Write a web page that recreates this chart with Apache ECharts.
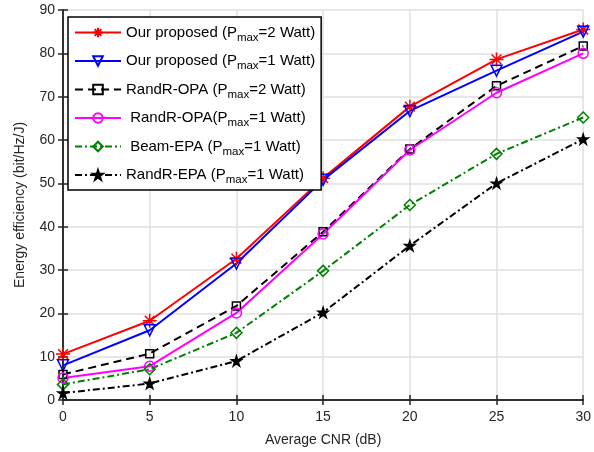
<!DOCTYPE html>
<html><head><meta charset="utf-8">
<script src="https://cdn.jsdelivr.net/npm/echarts@6/dist/echarts.min.js"></script>
<style>html,body{margin:0;padding:0;background:#fff}#c{width:594px;height:452px}</style>
</head><body><div id="c"></div>
<script>
const xValues = [0, 5, 10, 15, 20, 25, 30];
const ourP2 = [10.6, 18.3, 32.6, 51.2, 67.7, 78.6, 85.5];
const ourP1 = [8.0, 16.1, 31.5, 50.8, 66.7, 76.0, 85.0];
const randrOpaP2 = [5.9, 10.7, 21.7, 38.8, 57.9, 72.5, 81.7];
const randrOpaP1 = [5.1, 7.8, 20.1, 38.3, 57.7, 70.9, 80.0];
const beamEpaP1 = [3.6, 7.1, 15.5, 29.8, 45.0, 56.8, 65.2];
const randrEpaP1 = [1.6, 3.8, 9.0, 20.2, 35.6, 50.0, 60.2];
const seriesNames = [
  'Our proposed (P{sub|max}=2 Watt)',
  'Our proposed (P{sub|max}=1 Watt)',
  'RandR-OPA (P{sub|max}=2 Watt)',
  ' RandR-OPA(P{sub|max}=1 Watt)',
  ' Beam-EPA (P{sub|max}=1 Watt)',
  'RandR-EPA (P{sub|max}=1 Watt)'
];
const xTicks = [0, 5, 10, 15, 20, 25, 30];
const yTicks = [0, 10, 20, 30, 40, 50, 60, 70, 80, 90];

const asterisk = 'path://M0 5L10 5M5 0L5 10M1.5 1.5L8.5 8.5M8.5 1.5L1.5 8.5';
const star = 'path://M5 0L6.18 3.62L10 3.62L6.91 5.86L8.09 9.5L5 7.24L1.91 9.5L3.09 5.86L0 3.62L3.82 3.62Z';

const pairs = v => xValues.map((x, i) => [x, v[i]]);
function mk(name, data, color, symbol, size, lineType, filled, rotate) {
  return {
    name, type: 'line', data: pairs(data), symbol, symbolSize: size, symbolRotate: rotate || 0,
    lineStyle: {color, width: 2, type: lineType},
    itemStyle: {color: filled ? color : 'rgba(0,0,0,0)', borderColor: color, borderWidth: 1.5},
    emphasis: {disabled: true}, animation: false, z: 3
  };
}
const series = [
  mk(seriesNames[0], ourP2, '#ff0000', asterisk, 14, 'solid', false),
  mk(seriesNames[1], ourP1, '#0000ff', 'triangle', 11, 'solid', false, 180),
  mk(seriesNames[2], randrOpaP2, '#000000', 'rect', 8, [8, 5], false),
  mk(seriesNames[3], randrOpaP1, '#ff00ff', 'circle', 10, 'solid', false),
  mk(seriesNames[4], beamEpaP1, '#008000', 'diamond', 11, [7, 3, 2, 3], false),
  mk(seriesNames[5], randrEpaP1, '#000000', star, 10, [7, 3, 2, 3], true)
];
const axisCol = '#262626';
const chart = echarts.init(document.getElementById('c'), null, {renderer: 'canvas'});
const baseAxis = {
  axisLine: {show: true, lineStyle: {color: axisCol, width: 1.5}},
  axisTick: {show: true, inside: true, length: 5, lineStyle: {color: axisCol, width: 1.5}},
};
chart.setOption({
  backgroundColor: '#fff',
  animation: false,
  grid: {left: 63, right: 8, top: 10, bottom: 52},
  legend: {
    orient: 'vertical', left: 68, top: 17, itemWidth: 46, itemHeight: 12, itemGap: 10,
    padding: [8, 6, 4, 6], borderColor: '#000', borderWidth: 1.5, backgroundColor: '#fff',
    data: seriesNames, selectedMode: false,
    textStyle: {fontFamily: 'Liberation Sans', fontSize: 15, color: '#000',
      rich: {sub: {fontFamily: 'Liberation Sans', fontSize: 11.5, color: '#000', verticalAlign: 'bottom', padding: [10, 0, 0, 0]}}}
  },
  xAxis: [
    Object.assign({}, baseAxis, {type: 'value', min: 0, max: 30, interval: 5,
      name: 'Average CNR (dB)', nameLocation: 'middle', nameGap: 33,
      nameTextStyle: {fontFamily: 'Liberation Sans', fontSize: 14, color: axisCol},
      axisLabel: {fontFamily: 'Liberation Sans', fontSize: 14, color: axisCol, margin: 10, formatter: v => xTicks.includes(v) ? String(v) : ''},
      splitLine: {show: true, lineStyle: {color: '#dfdfdf', width: 1.5}}}),
    Object.assign({}, baseAxis, {type: 'value', position: 'top', min: 0, max: 30, interval: 5,
      axisLabel: {show: false}, splitLine: {show: false}})
  ],
  yAxis: [
    Object.assign({}, baseAxis, {type: 'value', min: 0, max: 90, interval: 10,
      name: 'Energy efficiency (bit/Hz/J)', nameLocation: 'middle', nameGap: 36,
      nameTextStyle: {fontFamily: 'Liberation Sans', fontSize: 14, color: axisCol},
      axisLabel: {fontFamily: 'Liberation Sans', fontSize: 14, color: axisCol, margin: 8, formatter: v => yTicks.includes(v) ? String(v) : ''},
      splitLine: {show: true, lineStyle: {color: '#dfdfdf', width: 1.5}}}),
    Object.assign({}, baseAxis, {type: 'value', position: 'right', min: 0, max: 90, interval: 10,
      axisLabel: {show: false}, splitLine: {show: false}})
  ],
  series
});
</script></body></html>
